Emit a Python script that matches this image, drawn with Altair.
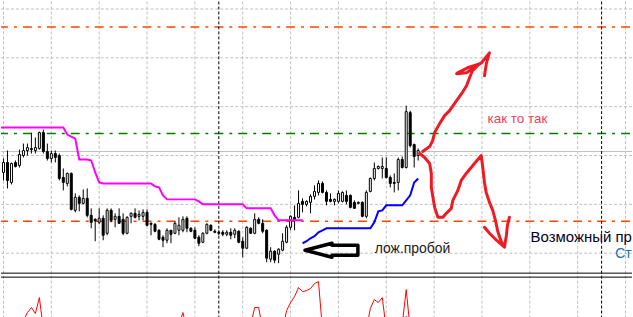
import altair as alt
import pandas as pd

# ---------------- data ----------------
open_ = [1.3428,1.3438,1.3418,1.3438,1.3435,1.3445,1.3450,1.3452,1.3450,1.3452,
         1.3468,1.3449,1.3442,1.3447,1.3445,1.3423,1.3417,1.3427,1.3390,1.3403,
         1.3397,1.3402,1.3385,1.3381,1.3378,1.3382,1.3367,1.3390,1.3381,1.3384,
         1.3381,1.3367,1.3384,1.3387,1.3384,1.3384,1.3388,1.3377,1.3376,1.3370,
         1.3363,1.3360,1.3370,1.3367,1.3370,1.3370,1.3382,1.3372,1.3370,1.3363,
         1.3358,1.3367,1.3375,1.3369,1.3368,1.3368,1.3366,1.3368,1.3366,1.3369,
         1.3359,1.3352,1.3372,1.3367,1.3381,1.3377,1.3370,1.3341,1.3349,1.3346,
         1.3350,1.3358,1.3373,1.3383,1.3383,1.3399,1.3396,1.3398,1.3404,1.3408,
         1.3417,1.3408,1.3401,1.3399,1.3399,1.3399,1.3405,1.3405,1.3398,1.3397,
         1.3398,1.3384,1.3409,1.3422,1.3432,1.3432,1.3432,1.3423,1.3418,1.3418,
         1.3441,1.3433,1.3488,1.3456,1.3445]
high = [1.3442,1.3450,1.3438,1.3440,1.3451,1.3457,1.3457,1.3468,1.3463,1.3469,
        1.3471,1.3457,1.3450,1.3450,1.3447,1.3432,1.3428,1.3428,1.3407,1.3405,
        1.3411,1.3412,1.3392,1.3382,1.3392,1.3385,1.3392,1.3392,1.3387,1.3392,
        1.3387,1.3384,1.3388,1.3392,1.3390,1.3391,1.3391,1.3378,1.3377,1.3371,
        1.3365,1.3372,1.3370,1.3379,1.3383,1.3384,1.3384,1.3373,1.3373,1.3365,
        1.3368,1.3377,1.3376,1.3371,1.3370,1.3370,1.3370,1.3372,1.3372,1.3370,
        1.3363,1.3374,1.3373,1.3387,1.3383,1.3381,1.3371,1.3353,1.3350,1.3352,
        1.3367,1.3375,1.3385,1.3395,1.3410,1.3402,1.3400,1.3406,1.3415,1.3420,
        1.3419,1.3410,1.3407,1.3402,1.3410,1.3409,1.3410,1.3406,1.3400,1.3399,
        1.3399,1.3410,1.3423,1.3438,1.3435,1.3443,1.3443,1.3425,1.3427,1.3443,
        1.3444,1.3495,1.3490,1.3457,1.3452]
low = [1.3420,1.3412,1.3416,1.3433,1.3433,1.3443,1.3445,1.3447,1.3447,1.3451,
       1.3447,1.3440,1.3438,1.3438,1.3420,1.3410,1.3414,1.3390,1.3388,1.3389,
       1.3396,1.3383,1.3372,1.3359,1.3376,1.3360,1.3365,1.3378,1.3373,1.33765,
       1.3365,1.3366,1.3377,1.3382,1.3380,1.3380,1.3374,1.3365,1.3368,1.3360,
       1.3353,1.3357,1.3357,1.3366,1.3365,1.3368,1.3368,1.3368,1.3361,1.3354,
       1.3357,1.3366,1.3369,1.3367,1.3365,1.3364,1.3364,1.3361,1.3362,1.3357,
       1.3343,1.3351,1.33665,1.3366,1.3376,1.3367,1.3338,1.3338,1.3337,1.3337,
       1.3349,1.3357,1.3370,1.3370,1.3382,1.3388,1.3394,1.3387,1.3401,1.3405,
       1.3407,1.3395,1.3398,1.3395,1.3397,1.3398,1.3396,1.3392,1.33915,1.3396,
       1.3383,1.3382,1.3408,1.3420,1.3431,1.3422,1.3422,1.3413,1.3408,1.3410,
       1.3432,1.3432,1.3453,1.3433,1.3440]
close = [1.3438,1.3420,1.3437,1.3434,1.3446,1.3450,1.3453,1.3451,1.3453,1.3468,
         1.3449,1.3442,1.3447,1.3443,1.3422,1.3418,1.3427,1.3391,1.3403,1.3397,
         1.3402,1.3385,1.3378,1.33795,1.3382,1.3365,1.3390,1.3380,1.3384,1.3377,
         1.3367,1.3383,1.3387,1.3383,1.3386,1.3388,1.3375,1.3376,1.3369,1.3361,
         1.3360,1.3370,1.3366,1.3377,1.3375,1.3381,1.3372,1.3369,1.3362,1.3357,
         1.3367,1.3376,1.3370,1.3368,1.3367,1.3366,1.3368,1.3365,1.3370,1.3358,
         1.3352,1.3373,1.3367,1.3381,1.3377,1.3369,1.3342,1.3349,1.3340,1.3351,
         1.3359,1.3373,1.3384,1.3380,1.3397,1.3396,1.3399,1.3404,1.3409,1.3417,
         1.3408,1.3399,1.3399,1.3401,1.3407,1.3408,1.3399,1.3393,1.3392,1.3398,
         1.3384,1.3408,1.3422,1.3432,1.3434,1.3434,1.3423,1.3417,1.3417,1.3441,
         1.3433,1.3489,1.3455,1.3444,1.3450]

# magenta stop line, bars -1..75 (the line enters from the left edge)
upper_stop = [1.3473,
              1.3473,1.3473,1.3473,1.3473,1.3473,1.3473,1.3473,1.3473,1.3473,1.3473,
              1.3473,1.3473,1.3473,1.3473,1.3473,1.3473,1.3466,1.3464,1.3462,1.3441,
              1.3441,1.3441,1.3440,1.3428,1.3418,1.3417,1.3417,1.3417,1.3417,1.3417,
              1.3417,1.3417,1.3417,1.3417,1.3417,1.3417,1.3417,1.3417,1.3414,1.3413,
              1.3405,1.3401,1.3401,1.3401,1.3401,1.3401,1.3401,1.3401,1.3401,1.3399,
              1.3396,1.3396,1.3396,1.3396,1.3396,1.3396,1.3396,1.3396,1.3396,1.3396,
              1.3396,1.3392,1.3392,1.3392,1.3392,1.3392,1.3392,1.3392,1.3385,1.3380,
              1.3380,1.3380,1.3380,1.3380,1.3380,1.3380]
# blue stop line, bars 75..104
lower_stop = [1.3357,1.3359,1.3362,1.3364,1.3368,1.3370,1.3372,1.3372,1.3372,1.3372,
              1.3372,1.3372,1.3372,1.3372,1.3372,1.3372,1.3372,1.3372,1.3378,1.3389,
              1.3390,1.3395,1.3395,1.3395,1.3395,1.3395,1.3400,1.3405,1.3418,1.3422]

# oscillator in the lower window, bars 0..104
osc = [0,0,0,0,0,9,17,22,16,32,0,0,0,0,0,
       0,0,0,0,0,0,0,0,0,0,0,0,0,0,0,
       0,0,0,0,0,0,0,0,0,0,0,0,0,0,5,
       17,0,0,0,0,0,0,0,0,0,0,0,0,0,0,
       0,0,5,22,22,0,0,0,0,0,0,19,27,33,42,
       38,39,41,46,48,0,0,0,0,0,0,0,0,0,0,
       0,0,21,30,27,32,0,0,0,0,5,40,0,0,0]
osc_hist_bar = [101]
osc_hist_val = [13]

grid_x = [0, 12, 24, 36, 48, 60, 72, 84, 96, 108, 120, 132, 144, 156]
separator_x = [54, 150]
grid_y = [1.3592, 1.3543, 1.3494, 1.3445, 1.3396, 1.3347]
orange_levels = [1.3574, 1.3379]
green_levels = [1.3467]
gray_levels = [1.3449]

# hand-drawn annotations
red_up_x = [105.13,106.88,107.63,108.13,109.38,110.63,111.88,113.63,114.88,116.13,116.88,
            117.63,119.38,116.38,113.88,113.63,116.13,119.38,119.88,121.88,121.13,120.63]
red_up_p = [1.3449,1.3454,1.3460,1.3468,1.3477,1.3485,1.3490,1.3500,1.3507,1.3515,1.3523,
            1.3530,1.3537,1.3533,1.3528,1.3527,1.3528,1.3537,1.3538,1.3548,1.3538,1.3525]
red_dn_x = [104.38,105.63,106.88,107.3,107.3,107.7,108.13,108.95,110.2,111.05,112.3,112.7,
            113.95,114.8,116.05,117.7,119.38,119.8,120.2,120.63,121.05,121.88,122.7,123.38,
            123.95,124.8,125.63,123.63,121.88,120.63,121.88,123.63,125.63,126.13,126.38,126.88]
red_dn_p = [1.3447,1.3443,1.3437,1.3427,1.3413,1.3403,1.3393,1.3383,1.3383,1.3387,1.3392,1.3400,
            1.3410,1.3420,1.3427,1.3435,1.3443,1.3445,1.3433,1.3418,1.3408,1.3398,1.3390,1.3380,
            1.3369,1.3359,1.3353,1.3360,1.3367,1.3373,1.3367,1.3360,1.3353,1.3365,1.3375,1.3383]
arrow_x = [75.63, 82.38, 82.38, 88.88, 88.88, 82.38, 82.38, 75.63]
arrow_p = [1.3350, 1.3357, 1.3355, 1.3355, 1.3345, 1.3345, 1.3343, 1.3350]

labels = [
    {"t": "как то так", "x": 121.4, "p": 1.34777, "size": 13.5, "color": "#f23c5a"},
    {"t": "лож.пробой", "x": 93.1, "p": 1.33473, "size": 14, "color": "#202020"},
    {"t": "Возможный пр", "x": 132.2, "p": 1.33583, "size": 15, "color": "#000022"},
    {"t": "Ст", "x": 153.4, "p": 1.33420, "size": 14, "color": "#1f6fb2"},
]

# ---------------- chart ----------------
X = alt.Scale(domain=[-0.625, 157.625], nice=False, zero=False, padding=0)
YP = alt.Scale(domain=[1.33265, 1.35995], nice=False, zero=False, padding=0)
YO = alt.Scale(domain=[10, 54], nice=False, zero=False, padding=0)

def xq(f="i"):
    return alt.X(f"{f}:Q", scale=X, axis=None)

def yp(f="p"):
    return alt.Y(f"{f}:Q", scale=YP, axis=None)

candles = pd.DataFrame({"i": list(range(len(open_))), "o": open_, "h": high, "l": low, "c": close})

vgrid_df = pd.DataFrame({"i": grid_x})
sep_df = pd.DataFrame({"i": separator_x})

vgrid = alt.Chart(vgrid_df).mark_rule(color="#c0c0c0", strokeDash=[3, 2], strokeWidth=1).encode(x=xq())
seps = alt.Chart(sep_df).mark_rule(color="black", strokeDash=[3, 2], strokeWidth=1).encode(x=xq())

hgrid = alt.Chart(pd.DataFrame({"p": grid_y})).mark_rule(
    color="#c0c0c0", strokeDash=[3, 2], strokeWidth=1).encode(y=yp())
gray_lv = alt.Chart(pd.DataFrame({"p": gray_levels})).mark_rule(
    color="#c0c0c0", strokeWidth=1).encode(y=yp())
orange_lv = alt.Chart(pd.DataFrame({"p": orange_levels})).mark_rule(
    color="#ff4500", strokeWidth=1.5, strokeDash=[9, 6, 3, 6], strokeDashOffset=22).encode(y=yp())
green_lv = alt.Chart(pd.DataFrame({"p": green_levels})).mark_rule(
    color="#008000", strokeWidth=1.5, strokeDash=[9, 6, 3, 6], strokeDashOffset=22).encode(y=yp())

wicks = alt.Chart(candles).mark_rule(color="black", strokeWidth=1).encode(
    x=xq(), y=yp("l"), y2="h:Q")
bodies = alt.Chart(candles).mark_bar(width=2, stroke="black", strokeWidth=1).encode(
    x=xq(), y=yp("o"), y2="c:Q",
    fill=alt.condition("datum.c > datum.o", alt.value("white"), alt.value("black")))

up_df = pd.DataFrame({"i": list(range(-1, len(upper_stop) - 1)), "p": upper_stop})
lo_df = pd.DataFrame({"i": list(range(75, 75 + len(lower_stop))), "p": lower_stop})
up_line = alt.Chart(up_df).mark_line(color="#ff00ff", strokeWidth=2, clip=True).encode(x=xq(), y=yp())
lo_line = alt.Chart(lo_df).mark_line(color="#0000ff", strokeWidth=2).encode(x=xq(), y=yp())

def path(xs, ps, color, width):
    df = pd.DataFrame({"i": xs, "p": ps, "k": list(range(len(xs)))})
    return alt.Chart(df).mark_line(color=color, strokeWidth=width, strokeJoin="round",
                                   strokeCap="round").encode(x=xq(), y=yp(), order="k:Q")

red_up = path(red_up_x, red_up_p, "#ed1c24", 3)
red_dn = path(red_dn_x, red_dn_p, "#ed1c24", 3)
black_arrow = path(arrow_x, arrow_p, "black", 3.5)

texts = []
for lab in labels:
    df = pd.DataFrame({"i": [lab["x"]], "p": [lab["p"]], "t": [lab["t"]]})
    texts.append(alt.Chart(df).mark_text(
        align="left", baseline="alphabetic", font="Liberation Sans",
        fontSize=lab["size"], color=lab["color"], clip=True).encode(x=xq(), y=yp(), text="t:N"))

border_main = alt.Chart(pd.DataFrame({"k": [0]})).mark_rule(color="black", strokeWidth=1).encode(
    y=alt.value(272.5))

main = alt.layer(vgrid, hgrid, gray_lv, orange_lv, green_lv, seps, wicks, bodies,
                 up_line, lo_line, black_arrow, red_up, red_dn, *texts, border_main
                 ).properties(width=633, height=273)

osc_df = pd.DataFrame({"i": list(range(len(osc))), "v": osc})
hist_df = pd.DataFrame({"i": osc_hist_bar, "v": osc_hist_val, "v0": [0]})
osc_line = alt.Chart(osc_df).mark_line(color="#ff0000", strokeWidth=1, clip=True).encode(
    x=xq(), y=alt.Y("v:Q", scale=YO, axis=None))
osc_hist = alt.Chart(hist_df).mark_bar(color="#0000ff", width=2, clip=True).encode(
    x=xq(), y=alt.Y("v:Q", scale=YO, axis=None), y2="v0:Q")
border_low = alt.Chart(pd.DataFrame({"k": [0]})).mark_rule(color="black", strokeWidth=1).encode(
    y=alt.value(1.5))

lower = alt.layer(vgrid, seps, osc_hist, osc_line, border_low).properties(width=633, height=44)

chart = alt.vconcat(main, lower, spacing=0).resolve_scale(
    x="independent", y="independent").properties(
    padding=0, background="white").configure_view(stroke=None)

chart.save("out.html", embed_options={"renderer": "svg", "actions": False})
